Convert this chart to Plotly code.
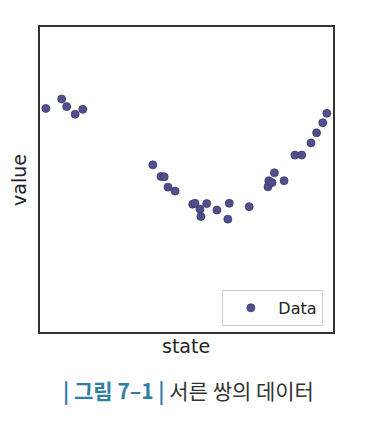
import plotly.graph_objects as go

state = [2.0, 7.4, 9.1, 12.0, 14.6, 38.5, 41.3, 42.4, 43.7, 46.1,
         52.1, 52.9, 54.6, 54.9, 56.9, 60.4, 64.1, 64.6, 71.4, 77.8,
         78.1, 79.2, 80.0, 83.3, 87.0, 89.3, 92.5, 94.4, 96.5, 97.9]
value = [73.3, 76.4, 73.9, 71.4, 73.0, 54.8, 51.0, 50.9, 47.5, 46.2,
         41.9, 42.2, 40.3, 37.9, 42.1, 40.0, 37.0, 42.2, 41.1, 47.6,
         49.6, 49.0, 52.2, 49.6, 58.0, 58.0, 62.0, 65.3, 68.6, 71.7]

fig = go.Figure()
fig.add_trace(go.Scatter(
    x=state, y=value, mode="markers", name="Data",
    marker=dict(size=8, color="#50508e", line=dict(color="#3a3a70", width=0.8)),
))

OFF = 8  # page body margin
W, H = 377 - OFF, 429 - OFF
L, T = 40 - OFF, 27 - OFF
PW, PH = 293, 305
R = W - L - PW
B = H - T - PH

fig.update_layout(
    width=W, height=H,
    margin=dict(l=L, r=R, t=T, b=B),
    paper_bgcolor="white", plot_bgcolor="white",
    showlegend=True,
    legend=dict(x=0.967, y=0.02, xanchor="right", yanchor="bottom",
                bordercolor="#d0d0d0", borderwidth=1,
                font=dict(family="DejaVu Sans", size=16, color="#222"),
                itemwidth=45, tracegroupgap=0),
    xaxis=dict(range=[0, 100], showticklabels=False, ticks="", showgrid=False,
               zeroline=False, showline=True, linecolor="#333", linewidth=1.5, mirror=True),
    yaxis=dict(range=[0, 100], showticklabels=False, ticks="", showgrid=False,
               zeroline=False, showline=True, linecolor="#333", linewidth=1.5, mirror=True),
)

def px(x):
    return (x - OFF - L) / PW
def py(y):
    return (H - B - (y - OFF)) / PH

common = dict(xref="paper", yref="paper", showarrow=False,
              xanchor="center", yanchor="middle")
fig.add_annotation(x=px(186), y=py(346), text="state",
                   font=dict(family="DejaVu Sans", size=19, color="#222"), **common)
fig.add_annotation(x=px(19), y=py(180), text="value", textangle=-90,
                   font=dict(family="DejaVu Sans", size=19, color="#222"), **common)
fig.add_annotation(x=px(188), y=py(390),
                   text="<b><span style='color:#2f7ea6'>| 그림 7–1 |</span></b> 서른 쌍의 데이터",
                   font=dict(family="Noto Sans CJK KR", size=21, color="#333"), **common)

fig.write_html("out.html")
